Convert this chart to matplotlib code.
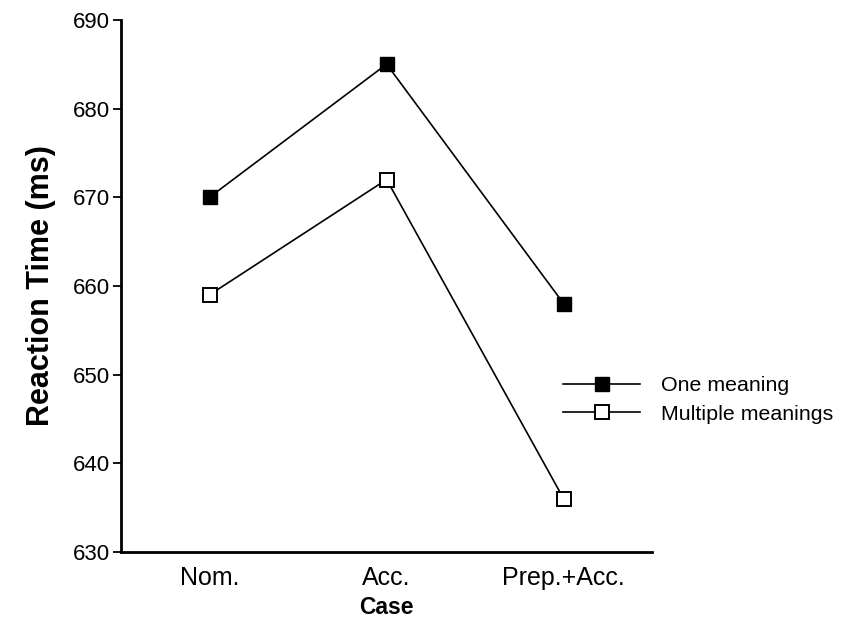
import matplotlib
matplotlib.use("Agg")
import matplotlib.pyplot as plt

plt.rcParams['font.family'] = ['Liberation Sans', 'DejaVu Sans']

# данные
cases = ["Nom.", "Acc.", "Prep.+Acc."]
one_meaning = [670, 685, 658]
multiple_meanings = [659, 672, 636]
y_ticks = [630, 640, 650, 660, 670, 680, 690]

fig = plt.figure(figsize=(8.46, 6.19), dpi=100)
ax = fig.add_axes([0.143, 0.108, 0.628, 0.860])

x = list(range(len(cases)))
ax.plot(x, one_meaning, color="black", lw=1.2, marker="s", ms=10,
        mfc="black", mec="black", label="One meaning")
ax.plot(x, multiple_meanings, color="black", lw=1.2, marker="s", ms=10,
        mfc="white", mec="black", mew=1.4, label="Multiple meanings")

ax.set_xlim(-0.5, 2.5)
ax.set_ylim(630, 690)
ax.set_yticks(y_ticks)
ax.set_xticks(x)
ax.set_xticklabels(cases)

ax.spines['top'].set_visible(False)
ax.spines['right'].set_visible(False)
ax.spines['left'].set_linewidth(2)
ax.spines['bottom'].set_linewidth(2)
ax.tick_params(axis='y', length=6, width=1.3, labelsize=16, pad=2)
ax.tick_params(axis='x', length=0, labelsize=18, pad=10)

ax.set_ylabel("Reaction Time (ms)", fontsize=22, fontweight="bold", labelpad=12)
ax.set_xlabel("Case", fontsize=16.5, fontweight="bold", labelpad=4)

# легенда справа от графика
fig.legend(loc="center left", bbox_to_anchor=(0.6655, 0.354),
           bbox_transform=fig.transFigure, frameon=False, fontsize=15.4,
           borderpad=0, borderaxespad=0, handlelength=3.6,
           handletextpad=1.0, labelspacing=0.45)

plt.savefig("out.png", dpi=100)
plt.close()
